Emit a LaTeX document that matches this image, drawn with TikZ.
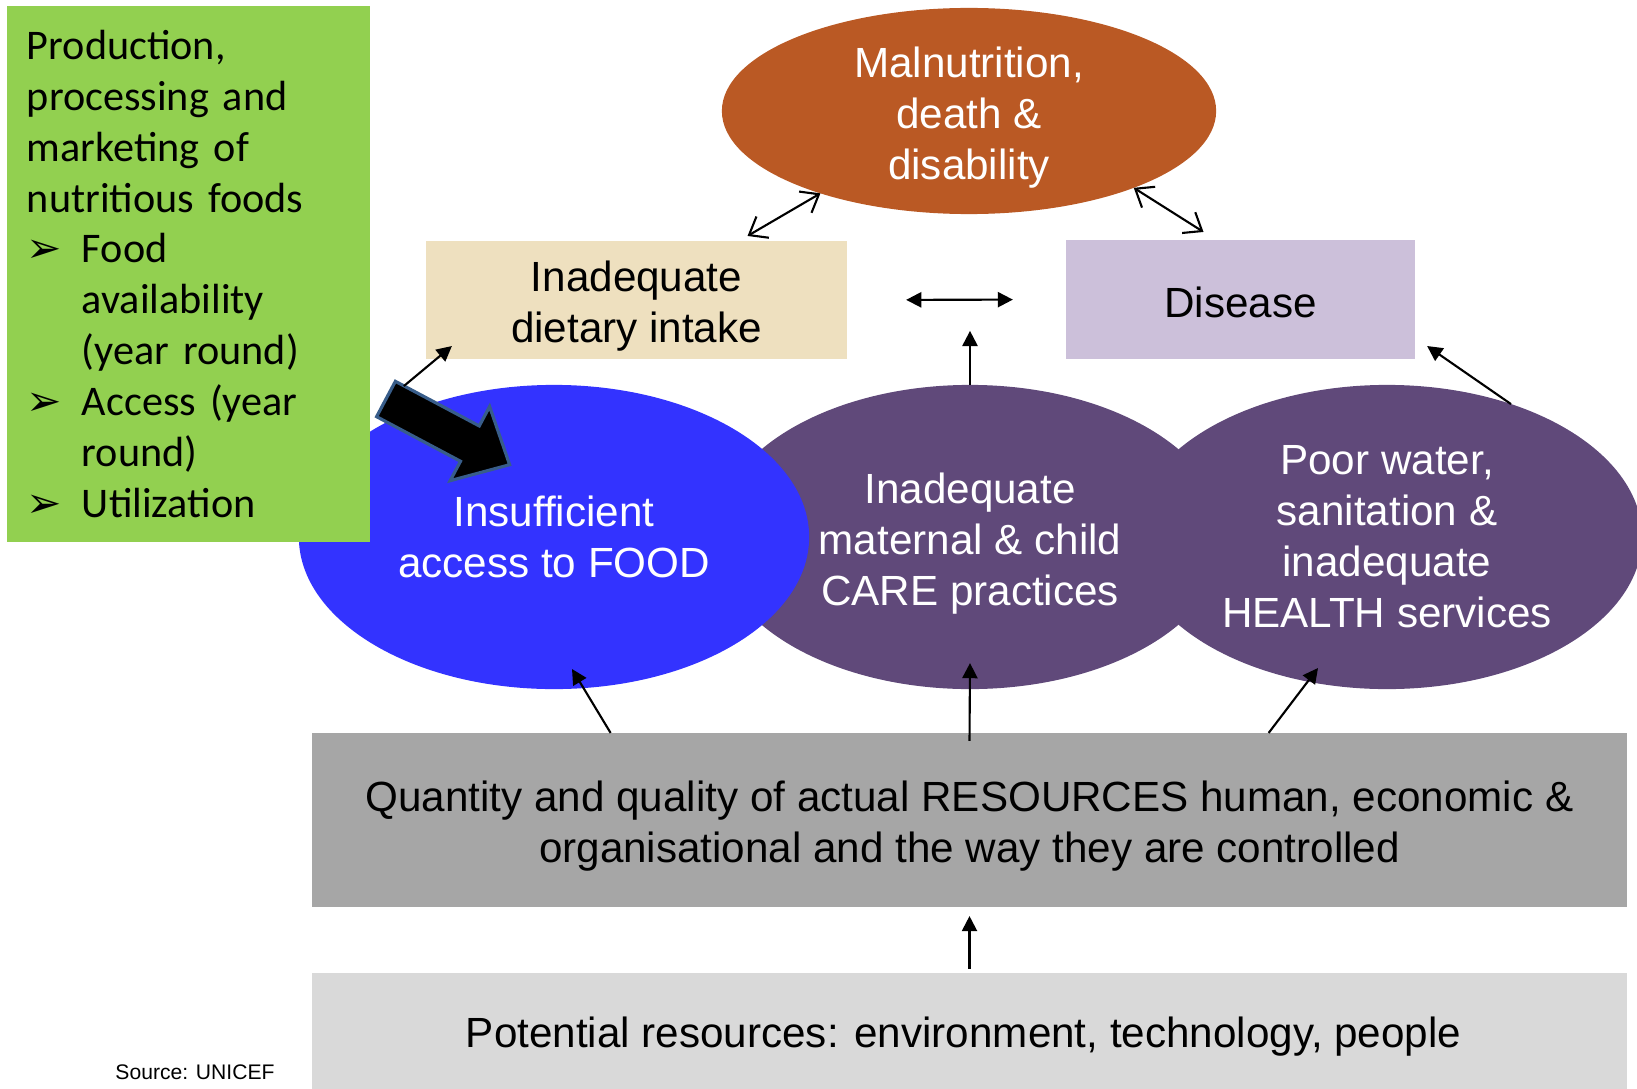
\documentclass[tikz,border=0pt]{standalone}
\usepackage{fontspec}
\setmainfont{Liberation Sans}
\newfontfamily\calibri{Carlito}
\newfontfamily\dingfont{DejaVu Sans}
\usetikzlibrary{arrows.meta}
\usetikzlibrary{positioning}
\usetikzlibrary{shapes.geometric}

\definecolor{prodgreen}{RGB}{146,208,80}
\definecolor{malorange}{RGB}{186,89,36}
\definecolor{diettan}{RGB}{238,224,191}
\definecolor{dislilac}{RGB}{204,192,218}
\definecolor{carepurple}{RGB}{96,73,122}
\definecolor{foodblue}{RGB}{51,51,255}
\definecolor{resgrey}{RGB}{166,166,166}
\definecolor{potgrey}{RGB}{217,217,217}
\definecolor{outlineblue}{RGB}{56,93,138}

\newcommand{\bul}{\makebox[0.55cm][l]{\dingfont\fontsize{12}{14.5}\selectfont ➢}}
\newcommand{\ind}{\hspace*{0.55cm}}
\newcommand{\lowstrut}{\rule{0pt}{12.4pt}}

\begin{document}
\begin{tikzpicture}[
    x=0.01cm, y=-0.01cm,
    font=\fontsize{12}{14.5}\selectfont,
    oval/.style={
        ellipse, minimum width=5.1cm, minimum height=3.04cm,
        inner sep=0pt, outer sep=0pt,
        text=white, align=center
    },
    box/.style={
        rectangle, inner sep=0pt, outer sep=0pt,
        align=center
    },
    arr/.style={-{Triangle[length=4.3pt,width=4.3pt]}, line width=0.6pt},
    dblarr/.style={{Straight Barb[length=4.5pt,width=7pt]}-{Straight Barb[length=4.5pt,width=7pt]}, line width=0.6pt}
]
\useasboundingbox (0,0) rectangle (1637,1088);

% the three causes
\node[oval, fill=carepurple] (care) at (970,537) {
    \lowstrut Inadequate \\
    maternal \& child \\
    CARE practices
};
\node[oval, fill=carepurple] (wash) at (1387,537) {
    Poor water, \\
    sanitation \& \\
    inadequate \\
    HEALTH services
};
\node[oval, fill=foodblue] (food) at (554,537) {
    Insufficient \\
    access to FOOD
};

\node[box, fill=prodgreen, minimum width=3.63cm, minimum height=5.36cm,
      text width=3.23cm, align=left, font=\calibri\fontsize{12}{14.5}\selectfont] (prod) at (188.5,274) {
    Production, \\
    processing and \\
    marketing of \\
    nutritious foods \\
    \bul Food \\
    \ind availability \\
    \ind (year round) \\
    \bul Access (year \\
    \ind round) \\
    \bul Utilization
};

% block arrow into food
\draw[fill=black, draw=outlineblue, line width=0.9pt, line join=miter,
      shift={(386,399)}, rotate=-28]
    (0,-20) -- (95,-20) -- (95,-42) -- (140,0) -- (95,42) -- (95,20) -- (0,20) -- cycle;

\node[ellipse, fill=malorange, minimum width=4.94cm, minimum height=2.06cm,
      inner xsep=0pt, inner ysep=-0.15cm, outer sep=0pt, text=white, align=center] (mal) at (969,111) {
    \lowstrut Malnutrition, \\
    death \& \\
    disability
};
\node[box, fill=diettan, minimum width=4.21cm, minimum height=1.18cm] (diet) at (636.5,300) {
    \lowstrut Inadequate \\
    dietary intake
};
\node[box, fill=dislilac, minimum width=3.49cm, minimum height=1.19cm] (dis) at (1240.5,299.5) {\rule{0pt}{10.4pt}Disease};

\node[box, fill=resgrey, minimum width=13.15cm, minimum height=1.74cm] (res) at (969.5,820) {
    \lowstrut Quantity and quality of actual RESOURCES human, economic \& \\
    organisational and the way they are controlled
};
\node[box, fill=potgrey, minimum width=13.15cm, minimum height=1.27cm] (pot) at (969.5,1036.5) {
    Potential resources: environment, technology, people
};
\node[font=\fontsize{6}{7}\selectfont, inner sep=0pt] (src) at (195,1072) {Source: UNICEF};

\draw[dblarr] ([shift={(111,-5)}]diet.north) -- (mal.209);
\draw[dblarr] (mal.-25) -- ([shift={(-37,-8)}]dis.north);
\draw[{Triangle[length=4.3pt,width=4.3pt]}-{Triangle[length=4.3pt,width=4.3pt]}, line width=0.6pt,
      shorten <=0.59cm, shorten >=0.53cm] (diet.east) -- (dis.west);
\draw[arr] (care.north) -- ([yshift=0.54cm]care.north);
\draw[arr] ([shift={(-22,27)}]diet.south west) -- ([shift={(26,-13)}]diet.south west);
\draw[arr] (wash.47) -- ([shift={(12,-13)}]dis.south east);
\draw[arr] ([shift={(299,0)}]res.north west) -- ([shift={(18,132)}]food.center);
\draw[arr] ([shift={(0,8)}]res.north) -- ([shift={(0,-26)}]care.south);
\draw[arr] ([shift={(957,0)}]res.north west) -- ([shift={(-69,131)}]wash.center);
\draw[arr] ([shift={(0,-4)}]pot.north) -- ([shift={(0,9)}]res.south);
\end{tikzpicture}
\end{document}
